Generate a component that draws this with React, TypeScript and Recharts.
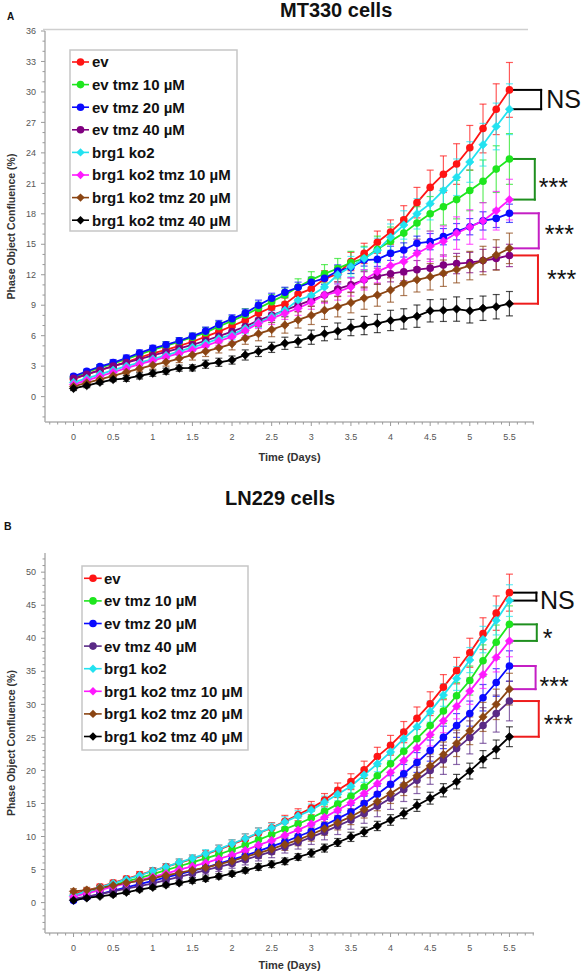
import React from 'react';
import { LineChart, Line, XAxis, YAxis, ErrorBar, ReferenceLine, ReferenceDot } from 'recharts';

const FONT = '"Liberation Sans", Arial, Helvetica, sans-serif';

// ---------- shared ----------
const timeDays = [0, 0.1667, 0.3333, 0.5, 0.6667, 0.8333, 1, 1.1667, 1.3333, 1.5, 1.6667, 1.8333, 2, 2.1667, 2.3333, 2.5, 2.6667, 2.8333, 3, 3.1667, 3.3333, 3.5, 3.6667, 3.8333, 4, 4.1667, 4.3333, 4.5, 4.6667, 4.8333, 5, 5.1667, 5.3333, 5.5];
const seriesNames = ['ev', 'ev tmz 10 µM', 'ev tmz 20 µM', 'ev tmz 40 µM', 'brg1 ko2', 'brg1 ko2 tmz 10 µM', 'brg1 ko2 tmz 20 µM', 'brg1 ko2 tmz 40 µM'];
const markerShapes = ['circle', 'circle', 'circle', 'circle', 'diamond', 'diamond', 'diamond', 'diamond'];
const xMajorTicks = [0, 0.5, 1, 1.5, 2, 2.5, 3, 3.5, 4, 4.5, 5, 5.5];

// ---------- panel A : MT330 cells ----------
const mt330Ev = [1.7, 2.2, 2.6, 3.0, 3.4, 3.85, 4.25, 4.6, 5.0, 5.4, 5.9, 6.4, 6.95, 7.5, 8.2, 8.8, 9.1, 10.1, 10.6, 11.6, 12.1, 13.3, 14.1, 15.2, 16.2, 17.4, 19.1, 20.6, 21.9, 22.9, 24.5, 26.4, 28.3, 30.2];
const mt330EvTmz10 = [1.9, 2.4, 2.85, 3.25, 3.7, 4.15, 4.6, 5.0, 5.4, 5.85, 6.3, 6.9, 7.45, 8.05, 8.7, 9.35, 10.0, 10.8, 11.5, 12.1, 12.6, 13.2, 13.6, 14.5, 15.3, 16.1, 17.1, 18.0, 18.7, 19.4, 20.3, 21.2, 22.4, 23.4];
const mt330EvTmz20 = [2.0, 2.5, 2.95, 3.35, 3.8, 4.3, 4.75, 5.1, 5.5, 5.95, 6.45, 7.1, 7.66, 8.22, 9.0, 9.68, 10.27, 10.77, 11.26, 11.65, 12.37, 12.73, 13.45, 13.52, 14.11, 14.44, 15.1, 15.26, 15.75, 16.24, 16.73, 17.3, 17.55, 18.05];
const mt330EvTmz40 = [1.8, 2.2, 2.6, 3.0, 3.35, 3.7, 4.05, 4.4, 4.75, 5.1, 5.5, 5.95, 6.4, 6.9, 7.5, 8.0, 8.5, 9.0, 9.5, 10.0, 10.6, 11.0, 11.5, 11.85, 12.1, 12.3, 12.5, 12.65, 12.95, 13.1, 13.2, 13.4, 13.6, 13.9];
const mt330Ko2 = [1.4, 1.8, 2.2, 2.6, 3.0, 3.35, 3.7, 4.05, 4.45, 4.85, 5.25, 5.7, 6.1, 6.7, 7.3, 7.9, 8.5, 9.5, 9.95, 10.8, 12.0, 12.8, 13.6, 14.4, 15.7, 16.9, 18.0, 19.0, 20.3, 21.6, 23.1, 24.8, 26.6, 28.3];
const mt330Ko2Tmz10 = [1.2, 1.6, 2.0, 2.4, 2.8, 3.2, 3.55, 3.9, 4.25, 4.6, 5.0, 5.45, 5.9, 6.5, 7.2, 7.7, 8.2, 8.7, 9.3, 10.0, 10.3, 10.8, 11.5, 12.3, 12.9, 13.3, 14.1, 14.8, 15.3, 16.1, 16.7, 17.3, 18.3, 19.4];
const mt330Ko2Tmz20 = [1.0, 1.35, 1.7, 2.05, 2.4, 2.75, 3.1, 3.4, 3.75, 4.1, 4.45, 4.8, 5.2, 5.75, 6.2, 6.6, 7.05, 7.55, 8.0, 8.5, 8.85, 9.25, 9.7, 10.0, 10.5, 11.15, 11.5, 11.8, 12.15, 12.5, 12.9, 13.4, 13.95, 14.6];
const mt330Ko2Tmz40 = [0.8, 1.08, 1.41, 1.68, 1.8, 2.04, 2.3, 2.5, 2.8, 2.83, 3.19, 3.38, 3.6, 4.1, 4.45, 4.85, 5.25, 5.45, 5.85, 6.2, 6.45, 6.8, 7.0, 7.2, 7.5, 7.65, 7.92, 8.45, 8.5, 8.62, 8.45, 8.7, 8.85, 9.15];

const mt330EvErr = [0.2, 0.2, 0.3, 0.3, 0.3, 0.3, 0.3, 0.4, 0.4, 0.4, 0.4, 0.5, 0.5, 0.5, 0.5, 0.6, 0.6, 0.7, 0.7, 0.8, 0.8, 0.9, 1.0, 1.1, 1.2, 1.4, 1.5, 1.7, 1.8, 2.0, 2.2, 2.4, 2.5, 2.7];
const mt330EvTmz10Err = [0.2, 0.2, 0.3, 0.3, 0.3, 0.3, 0.4, 0.4, 0.4, 0.4, 0.5, 0.5, 0.5, 0.6, 0.6, 0.7, 0.7, 0.8, 0.8, 0.9, 1.0, 1.1, 1.2, 1.3, 1.4, 1.5, 1.6, 1.7, 1.8, 1.9, 2.0, 2.1, 2.3, 2.5];
const mt330EvTmz20Err = [0.2, 0.2, 0.2, 0.3, 0.3, 0.3, 0.3, 0.3, 0.3, 0.3, 0.4, 0.4, 0.4, 0.4, 0.5, 0.5, 0.5, 0.5, 0.5, 0.6, 0.6, 0.6, 0.6, 0.7, 0.7, 0.7, 0.7, 0.8, 0.8, 0.8, 0.8, 0.9, 0.9, 0.9];
const mt330EvTmz40Err = [0.2, 0.2, 0.2, 0.2, 0.3, 0.3, 0.3, 0.3, 0.3, 0.4, 0.4, 0.4, 0.4, 0.5, 0.5, 0.5, 0.6, 0.6, 0.6, 0.7, 0.7, 0.7, 0.8, 0.8, 0.8, 0.9, 0.9, 0.9, 1.0, 1.0, 1.0, 1.1, 1.1, 1.1];
const mt330Ko2Err = [0.2, 0.2, 0.2, 0.3, 0.3, 0.3, 0.3, 0.3, 0.4, 0.4, 0.4, 0.4, 0.5, 0.5, 0.5, 0.6, 0.6, 0.7, 0.7, 0.8, 0.9, 1.0, 1.1, 1.2, 1.3, 1.4, 1.5, 1.6, 1.7, 1.8, 2.0, 2.1, 2.3, 2.5];
const mt330Ko2Tmz10Err = [0.2, 0.2, 0.2, 0.3, 0.3, 0.3, 0.3, 0.3, 0.4, 0.4, 0.4, 0.4, 0.5, 0.5, 0.5, 0.6, 0.6, 0.7, 0.7, 0.8, 0.8, 0.9, 1.0, 1.1, 1.2, 1.3, 1.4, 1.5, 1.5, 1.6, 1.7, 1.8, 1.9, 2.0];
const mt330Ko2Tmz20Err = [0.2, 0.2, 0.3, 0.3, 0.3, 0.3, 0.4, 0.4, 0.4, 0.5, 0.5, 0.5, 0.6, 0.6, 0.7, 0.7, 0.8, 0.8, 0.9, 0.9, 1.0, 1.0, 1.1, 1.1, 1.2, 1.2, 1.2, 1.3, 1.3, 1.3, 1.4, 1.4, 1.5, 1.5];
const mt330Ko2Tmz40Err = [0.2, 0.2, 0.2, 0.2, 0.3, 0.3, 0.3, 0.3, 0.3, 0.3, 0.4, 0.4, 0.4, 0.5, 0.5, 0.5, 0.6, 0.6, 0.7, 0.7, 0.8, 0.8, 0.9, 0.9, 1.0, 1.0, 1.1, 1.1, 1.1, 1.2, 1.2, 1.2, 1.2, 1.2];

const mt330YMajor = [0, 3, 6, 9, 12, 15, 18, 21, 24, 27, 30, 33, 36];

// ---------- panel B : LN229 cells ----------
const ln229Ev = [1.3, 1.8, 2.4, 3.0, 3.6, 4.2, 4.8, 5.4, 6.0, 6.6, 7.3, 8.0, 8.8, 9.6, 10.5, 11.3, 12.3, 13.3, 14.3, 15.5, 17.0, 18.3, 20.1, 22.1, 23.8, 25.8, 27.9, 30.1, 32.6, 35.1, 37.8, 40.7, 43.8, 46.9];
const ln229EvTmz10 = [1.0, 1.5, 2.0, 2.6, 3.2, 3.7, 4.3, 4.9, 5.5, 6.1, 6.7, 7.3, 8.0, 8.7, 9.5, 10.3, 11.1, 11.9, 12.8, 13.8, 14.9, 16.1, 17.5, 19.2, 21.0, 22.9, 24.8, 26.8, 29.0, 31.3, 33.6, 36.6, 39.4, 42.1];
const ln229EvTmz20 = [0.3, 0.8, 1.3, 1.8, 2.3, 2.8, 3.3, 3.8, 4.3, 4.8, 5.3, 5.9, 6.5, 7.1, 7.8, 8.5, 9.2, 10.0, 10.8, 11.7, 12.7, 13.7, 15.0, 16.4, 17.9, 19.5, 21.2, 23.0, 25.0, 26.8, 28.6, 31.0, 33.3, 35.8];
const ln229EvTmz40 = [0.6, 0.9, 1.3, 1.7, 2.1, 2.5, 2.9, 3.4, 3.9, 4.4, 4.9, 5.4, 5.9, 6.5, 7.1, 7.7, 8.4, 9.1, 9.9, 10.7, 11.6, 12.5, 13.5, 14.6, 15.8, 17.1, 18.5, 20.0, 21.6, 23.3, 25.0, 26.8, 28.6, 30.5];
const ln229Ko2 = [1.1, 1.7, 2.3, 2.9, 3.5, 4.1, 4.8, 5.4, 6.1, 6.7, 7.4, 8.1, 8.9, 9.7, 10.6, 11.3, 12.2, 13.1, 14.0, 15.2, 16.4, 17.6, 19.3, 21.0, 22.8, 24.8, 26.6, 28.9, 31.4, 33.9, 36.7, 39.8, 42.7, 45.7];
const ln229Ko2Tmz10 = [0.9, 1.4, 1.9, 2.4, 2.9, 3.4, 3.9, 4.4, 5.0, 5.5, 6.0, 6.6, 7.2, 7.9, 8.7, 9.4, 10.2, 11.0, 11.9, 12.9, 14.0, 15.1, 16.5, 18.0, 19.7, 21.5, 23.4, 25.4, 27.5, 29.7, 32.0, 34.5, 37.1, 39.6];
const ln229Ko2Tmz20 = [1.7, 1.9, 2.2, 2.6, 3.0, 3.3, 3.7, 4.1, 4.5, 4.9, 5.3, 5.8, 6.3, 6.9, 7.5, 8.1, 8.8, 9.5, 10.3, 11.2, 12.1, 13.0, 14.1, 15.3, 16.5, 17.8, 19.2, 20.7, 22.4, 24.1, 26.0, 28.1, 30.0, 32.3];
const ln229Ko2Tmz40 = [0.35, 0.7, 0.95, 1.2, 1.55, 1.96, 2.3, 2.66, 2.97, 3.32, 3.62, 3.97, 4.37, 4.87, 5.38, 5.8, 6.25, 6.9, 7.5, 8.25, 9.1, 9.95, 10.7, 11.6, 12.5, 13.5, 14.7, 15.8, 17.0, 18.3, 19.9, 21.7, 23.2, 25.1];

const ln229EvErr = [0.3, 0.3, 0.4, 0.4, 0.4, 0.5, 0.5, 0.5, 0.6, 0.6, 0.6, 0.7, 0.7, 0.8, 0.8, 0.8, 0.9, 0.9, 1.0, 1.0, 1.1, 1.2, 1.3, 1.4, 1.5, 1.6, 1.7, 1.8, 1.9, 2.0, 2.2, 2.4, 2.6, 2.8];
const ln229EvTmz10Err = [0.3, 0.3, 0.3, 0.4, 0.4, 0.4, 0.5, 0.5, 0.5, 0.6, 0.6, 0.6, 0.7, 0.7, 0.8, 0.8, 0.9, 0.9, 1.0, 1.0, 1.1, 1.2, 1.3, 1.4, 1.5, 1.6, 1.7, 1.8, 1.9, 2.0, 2.2, 2.4, 2.6, 2.8];
const ln229EvTmz20Err = [0.2, 0.3, 0.3, 0.3, 0.3, 0.4, 0.4, 0.4, 0.4, 0.5, 0.5, 0.5, 0.6, 0.6, 0.6, 0.7, 0.7, 0.8, 0.8, 0.9, 0.9, 1.0, 1.1, 1.2, 1.3, 1.4, 1.5, 1.6, 1.7, 1.8, 1.9, 2.0, 2.1, 2.3];
const ln229EvTmz40Err = [0.3, 0.3, 0.3, 0.4, 0.4, 0.4, 0.5, 0.5, 0.5, 0.6, 0.6, 0.7, 0.7, 0.8, 0.8, 0.9, 0.9, 1.0, 1.1, 1.2, 1.3, 1.4, 1.5, 1.6, 1.7, 1.8, 2.0, 2.1, 2.2, 2.4, 2.5, 2.7, 2.8, 3.0];
const ln229Ko2Err = [0.3, 0.3, 0.3, 0.4, 0.4, 0.4, 0.5, 0.5, 0.5, 0.5, 0.6, 0.6, 0.6, 0.7, 0.7, 0.7, 0.8, 0.8, 0.9, 0.9, 1.0, 1.0, 1.1, 1.2, 1.3, 1.4, 1.5, 1.6, 1.7, 1.8, 1.9, 2.0, 2.2, 2.4];
const ln229Ko2Tmz10Err = [0.3, 0.3, 0.3, 0.4, 0.4, 0.4, 0.5, 0.5, 0.5, 0.5, 0.6, 0.6, 0.6, 0.7, 0.7, 0.8, 0.8, 0.9, 0.9, 1.0, 1.0, 1.1, 1.2, 1.3, 1.4, 1.5, 1.6, 1.7, 1.8, 1.9, 2.0, 2.1, 2.2, 2.4];
const ln229Ko2Tmz20Err = [0.4, 0.4, 0.4, 0.4, 0.5, 0.5, 0.5, 0.5, 0.6, 0.6, 0.6, 0.7, 0.7, 0.7, 0.8, 0.8, 0.9, 0.9, 1.0, 1.0, 1.1, 1.2, 1.3, 1.4, 1.5, 1.6, 1.7, 1.8, 1.9, 2.0, 2.1, 2.2, 2.3, 2.4];
const ln229Ko2Tmz40Err = [0.2, 0.2, 0.2, 0.3, 0.3, 0.3, 0.3, 0.3, 0.3, 0.4, 0.4, 0.4, 0.4, 0.4, 0.5, 0.5, 0.5, 0.5, 0.6, 0.6, 0.6, 0.7, 0.7, 0.7, 0.8, 0.8, 0.9, 0.9, 1.0, 1.1, 1.2, 1.3, 1.4, 1.5];

const ln229YMajor = [0, 5, 10, 15, 20, 25, 30, 35, 40, 45, 50];

// ---------- styling ----------
const colorsA = ['#ff1414', '#1ee61e', '#0a0aff', '#800080', '#22e2f0', '#ff18ff', '#8b4513', '#000000'];
const colorsB = ['#ff1414', '#1ee61e', '#0a0aff', '#5a2a86', '#22e2f0', '#ff18ff', '#8b4513', '#000000'];

const range = (a: number, b: number, step: number) => {
  const out: number[] = [];
  const n = Math.round((b - a) / step);
  for (let i = 0; i <= n; i++) out.push(Math.round((a + i * step) * 100) / 100);
  return out;
};
const xAllTicks = range(-0.3, 5.8, 0.1);

function buildRows(series: number[][], errors: number[][]) {
  return timeDays.map((t, i) => {
    const row: Record<string, number> = { t };
    series.forEach((s, k) => {
      row[`v${k}`] = s[i];
      row[`e${k}`] = errors[k][i];
    });
    return row;
  });
}

const seriesA = [mt330Ev, mt330EvTmz10, mt330EvTmz20, mt330EvTmz40, mt330Ko2, mt330Ko2Tmz10, mt330Ko2Tmz20, mt330Ko2Tmz40];
const errorsA = [mt330EvErr, mt330EvTmz10Err, mt330EvTmz20Err, mt330EvTmz40Err, mt330Ko2Err, mt330Ko2Tmz10Err, mt330Ko2Tmz20Err, mt330Ko2Tmz40Err];
const seriesB = [ln229Ev, ln229EvTmz10, ln229EvTmz20, ln229EvTmz40, ln229Ko2, ln229Ko2Tmz10, ln229Ko2Tmz20, ln229Ko2Tmz40];
const errorsB = [ln229EvErr, ln229EvTmz10Err, ln229EvTmz20Err, ln229EvTmz40Err, ln229Ko2Err, ln229Ko2Tmz10Err, ln229Ko2Tmz20Err, ln229Ko2Tmz40Err];

type Bracket = { top: number; bot: number; color: string; text: string; x0: number; x1: number; dx: number; dy: number; fs: number };

const bracketsA: Bracket[] = [
  { top: 0, bot: 4, color: '#000000', text: 'NS', x0: 5.54, x1: 5.9, dx: 5, dy: 8, fs: 25 },
  { top: 1, bot: 5, color: '#1f8f1f', text: '***', x0: 5.54, x1: 5.82, dx: 4, dy: 16.5, fs: 25 },
  { top: 2, bot: 6, color: '#c41fc4', text: '***', x0: 5.54, x1: 5.87, dx: 6, dy: 12.5, fs: 25 },
  { top: 3, bot: 7, color: '#ee1c1c', text: '***', x0: 5.54, x1: 5.86, dx: 9, dy: 8.5, fs: 25 },
];
const bracketsB: Bracket[] = [
  { top: 0, bot: 4, color: '#000000', text: 'NS', x0: 5.53, x1: 5.84, dx: 3.5, dy: 12, fs: 25 },
  { top: 1, bot: 5, color: '#1f8f1f', text: '*', x0: 5.53, x1: 5.845, dx: 6, dy: 14.5, fs: 25 },
  { top: 2, bot: 6, color: '#c41fc4', text: '***', x0: 5.53, x1: 5.83, dx: 4, dy: 17.5, fs: 25 },
  { top: 3, bot: 7, color: '#ee1c1c', text: '***', x0: 5.53, x1: 5.87, dx: 5, dy: 14.5, fs: 25 },
];

const makeDiamond = (color: string, s: number) => (props: any) => {
  const { cx, cy, index } = props;
  if (cx == null || cy == null || isNaN(cx) || isNaN(cy)) return <g key={`d${index}`} />;
  return (
    <path key={`d${index}`} d={`M${cx},${cy - s}L${cx + s},${cy}L${cx},${cy + s}L${cx - s},${cy}Z`} fill={color} stroke={color} strokeWidth={0.6} />
  );
};

const isIn = (arr: number[], v: number) => arr.some((m) => Math.abs(m - v) < 1e-6);

type PanelProps = {
  series: number[][];
  errors: number[][];
  colors: string[];
  yDomain: [number, number];
  yMajor: number[];
  yAll: number[];
  height: number;
  marginTop: number;
  xAxisHeight: number;
  timeLabelOffset: number;
  brackets: Bracket[];
};

function Panel({ series, errors, colors, yDomain, yMajor, yAll, height, marginTop, xAxisHeight, timeLabelOffset, brackets }: PanelProps) {
  const rows = buildRows(series, errors);
  const last = timeDays.length - 1;

  const xTick = (p: any) => {
    const { x, y, payload, index } = p;
    const v = payload.value;
    const major = isIn(xMajorTicks, v);
    return (
      <g key={`xt${index}`}>
        <line x1={x} y1={y} x2={x} y2={y + (major ? 4 : 2.5)} stroke="#9a9a9a" strokeWidth={1} />
        {major && (
          <text x={x} y={y + 17.5} textAnchor="middle" fontSize={9} fontFamily={FONT} fill="#555">
            {String(v)}
          </text>
        )}
      </g>
    );
  };
  const yTick = (p: any) => {
    const { x, y, payload, index } = p;
    const v = payload.value;
    const major = isIn(yMajor, v);
    return (
      <g key={`yt${index}`}>
        <line x1={x - (major ? 4 : 2.5)} y1={y} x2={x} y2={y} stroke="#9a9a9a" strokeWidth={1} />
        {major && (
          <text x={x - 9} y={y + 3.2} textAnchor="end" fontSize={9} fontFamily={FONT} fill="#555">
            {String(v)}
          </text>
        )}
      </g>
    );
  };

  return (
    <LineChart width={582} height={height} data={rows} margin={{ top: marginTop, right: 48, bottom: 0, left: 0 }}>
      <XAxis
        dataKey="t"
        type="number"
        domain={[-0.36, 5.81]}
        allowDataOverflow
        ticks={xAllTicks}
        interval={0}
        tickSize={0}
        tickMargin={0}
        tickLine={false}
        tick={xTick}
        axisLine={{ stroke: '#b0b0b0', strokeWidth: 1.5 }}
        height={xAxisHeight}
        label={{ value: 'Time (Days)', position: 'insideBottom', offset: timeLabelOffset, fontSize: 11, fontWeight: 'bold', fill: '#333', fontFamily: FONT }}
      />
      <YAxis
        type="number"
        domain={yDomain}
        allowDataOverflow
        ticks={yAll}
        interval={0}
        tickSize={0}
        tickMargin={0}
        tickLine={false}
        tick={yTick}
        axisLine={{ stroke: '#b0b0b0', strokeWidth: 1.5 }}
        width={45}
        label={{ value: 'Phase Object Confluence (%)', angle: -90, position: 'insideLeft', offset: 11, fontSize: 10.5, fontWeight: 'bold', fill: '#333', fontFamily: FONT, style: { textAnchor: 'middle' } }}
      />
      {colors.map((c, k) => (
        <Line
          key={`l${k}`}
          type="linear"
          dataKey={`v${k}`}
          stroke={c}
          strokeWidth={1.8}
          isAnimationActive={false}
          activeDot={false}
          dot={markerShapes[k] === 'circle' ? { r: 3.8, fill: c, stroke: c, strokeWidth: 0 } : makeDiamond(c, 4.2)}
        >
          <ErrorBar dataKey={`e${k}`} width={3.5} stroke={c} strokeOpacity={0.7} strokeWidth={1.2} direction="y" isAnimationActive={false} />
        </Line>
      ))}
      {brackets.map((b, i) => {
        const yTop = series[b.top][last];
        const yBot = series[b.bot][last];
        const common = { stroke: b.color, strokeWidth: 2, ifOverflow: 'visible' as const, strokeLinecap: 'square' as const };
        return [
          <ReferenceLine key={`bt${i}`} segment={[{ x: b.x0, y: yTop }, { x: b.x1, y: yTop }]} {...common} />,
          <ReferenceLine key={`bv${i}`} segment={[{ x: b.x1, y: yTop }, { x: b.x1, y: yBot }]} {...common} />,
          <ReferenceLine key={`bb${i}`} segment={[{ x: b.x1, y: yBot }, { x: b.x0, y: yBot }]} {...common} />,
          <ReferenceDot
            key={`bl${i}`}
            x={b.x1}
            y={(yTop + yBot) / 2}
            r={0}
            ifOverflow="visible"
            shape={(p: any) => (
              <text x={p.cx + b.dx} y={p.cy + b.dy} fontSize={b.fs} fontFamily={FONT} fill="#111">
                {b.text}
              </text>
            )}
          />,
        ];
      })}
    </LineChart>
  );
}

function LegendBox({ x, y, w, h, row0, step, lineX0, lineX1, markX, textX, colors }: any) {
  return (
    <g>
      <rect x={x} y={y} width={w} height={h} fill="#fff" stroke="#c6c6c6" strokeWidth={1.5} />
      {seriesNames.map((name, k) => {
        const cy = row0 + k * step;
        const c = colors[k];
        const s = 4.2;
        return (
          <g key={`lg${k}`}>
            <line x1={lineX0} y1={cy} x2={lineX1} y2={cy} stroke={c} strokeWidth={1.6} />
            {markerShapes[k] === 'circle' ? (
              <circle cx={markX} cy={cy} r={3.8} fill={c} />
            ) : (
              <path d={`M${markX},${cy - s}L${markX + s},${cy}L${markX},${cy + s}L${markX - s},${cy}Z`} fill={c} />
            )}
            <text x={textX} y={cy + 5.4} fontSize={15} fontWeight="bold" fontFamily={FONT} fill="#111">
              {name}
            </text>
          </g>
        );
      })}
    </g>
  );
}

export default function App() {
  return (
    <div style={{ position: 'absolute', left: 0, top: 0, width: 582, height: 974, background: '#fff', overflow: 'hidden' }}>
      <div style={{ position: 'absolute', left: 0, top: 0 }}>
        <Panel
          series={seriesA}
          errors={errorsA}
          colors={colorsA}
          yDomain={[-2.5, 36]}
          yMajor={mt330YMajor}
          yAll={range(-2, 36, 1)}
          height={470}
          marginTop={31}
          xAxisHeight={48}
          timeLabelOffset={9.5}
          brackets={bracketsA}
        />
      </div>
      <div style={{ position: 'absolute', left: 0, top: 470 }}>
        <Panel
          series={seriesB}
          errors={errorsB}
          colors={colorsB}
          yDomain={[-4.6, 52.9]}
          yMajor={ln229YMajor}
          yAll={range(-4, 52, 1)}
          height={504}
          marginTop={83}
          xAxisHeight={41}
          timeLabelOffset={5.5}
          brackets={bracketsB}
        />
      </div>
      <svg width={582} height={974} style={{ position: 'absolute', left: 0, top: 0, pointerEvents: 'none' }}>
        <text x={7} y={19.5} fontSize={10} fontWeight="bold" fontFamily={FONT} fill="#111">A</text>
        <text x={280} y={17} fontSize={20} fontWeight="bold" fontFamily={FONT} fill="#111">MT330 cells</text>
        <line x1={43} y1={29.5} x2={528} y2={29.5} stroke="#cfcfcf" strokeWidth={1.5} />
        <LegendBox x={70} y={50} w={167} h={181} row0={62} step={22.6} lineX0={72} lineX1={89} markX={80.5} textX={92} colors={colorsA} />
        <text x={4} y={529.5} fontSize={10.5} fontWeight="bold" fontFamily={FONT} fill="#111">B</text>
        <text x={225} y={505} fontSize={20} fontWeight="bold" fontFamily={FONT} fill="#111">LN229 cells</text>
        <LegendBox x={82} y={566} w={166} h={184} row0={578.3} step={22.6} lineX0={84} lineX1={101.7} markX={93} textX={104} colors={colorsB} />
      </svg>
    </div>
  );
}
